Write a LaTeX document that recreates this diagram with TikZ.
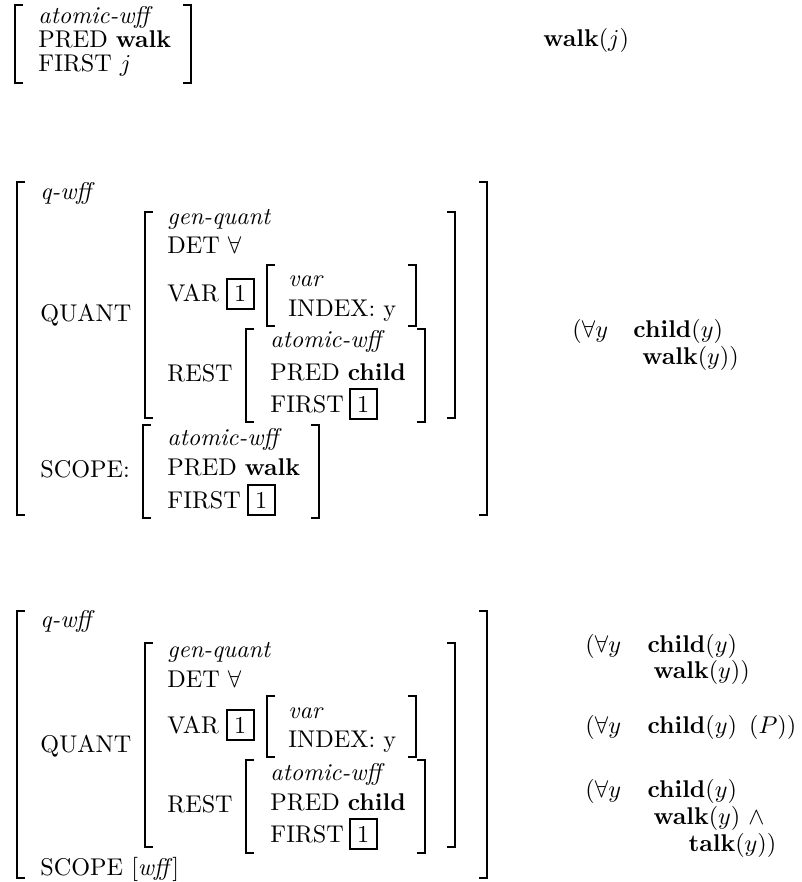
\documentclass[tikz,border=0pt]{standalone}
\usepackage{tikz}
\tikzset{
  feat/.style={anchor=base west, inner sep=0pt},
  tag/.style={draw, line width=0.8pt, inner sep=3pt, anchor=base west},
  brk/.style={line width=0.5pt},
  lf/.style={anchor=base west, inner sep=0pt}
}
% square brackets of one feature structure: left x, right x, top, bottom
\newcommand{\avmbrackets}[4]{%
  \draw[brk] (#1,#3) ++(8,0) -- (#1,#3) -- (#1,#4) -- ++(8,0);
  \draw[brk] (#2,#3) ++(-8,0) -- (#2,#3) -- (#2,#4) -- ++(-8,0);
}

\begin{document}
\begin{tikzpicture}[x=0.4132pt, y=-0.4132pt]
  \useasboundingbox (0,0) rectangle (801,882);

  % atomic wff
  \avmbrackets{15}{191}{5}{83}
  \node[feat] (aType) at (38,24) {\textit{atomic-wff}};
  \node[feat] (aPred) at (38,48) {PRED \textbf{walk}};
  \node[feat] (aFirst) at (38,72) {FIRST $j$};
  \node[lf] (lfA) at (543,47) {$\mathbf{walk}(j)$};

  % quantified wff, scope filled in
  \avmbrackets{17}{487}{182}{515}
  \node[feat] (bType) at (40,200) {\textit{q-wff}};
  \node[feat] (bQuant) at (40,322) {QUANT};
  \avmbrackets{145}{455}{212}{418}
  \node[feat] (bGen) at (167,225) {\textit{gen-quant}};
  \node[feat] (bDet) at (167,254) {DET $\forall$};
  \node[feat] (bVar) at (167,302) {VAR};
  \node[tag] (bTag) at (226,302) {1};
  \avmbrackets{267}{416}{265}{326}
  \node[feat] (bVType) at (288,287) {\textit{var}};
  \node[feat] (bIndex) at (288,317) {INDEX: y};
  \node[feat] (bRest) at (167,382) {REST};
  \avmbrackets{246}{425}{329}{422}
  \node[feat] (bRType) at (270,348) {\textit{atomic-wff}};
  \node[feat] (bRPred) at (270,380) {PRED \textbf{child}};
  \node[feat] (bRFirst) at (270,412) {FIRST};
  \node[tag] (bRTag) at (349,412) {1};
  \node[feat] (bScope) at (40,477) {SCOPE:};
  \avmbrackets{143}{319}{425}{518}
  \node[feat] (bSType) at (167,445) {\textit{atomic-wff}};
  \node[feat] (bSPred) at (167,475) {PRED \textbf{walk}};
  \node[feat] (bSFirst) at (167,508) {FIRST};
  \node[tag] (bSTag) at (247,508) {1};
  \node[lf] (lfB1) at (572,338) {$(\forall y$};
  \node[lf] (lfB2) at (633,338) {$\mathbf{child}(y)$};
  \node[lf] (lfB3) at (642,365) {$\mathbf{walk}(y))$};

  % quantified wff, open scope
  \avmbrackets{17}{487}{611}{878}
  \node[feat] (cType) at (40,627) {\textit{q-wff}};
  \node[feat] (cQuant) at (40,752) {QUANT};
  \avmbrackets{145}{455}{643}{847}
  \node[feat] (cGen) at (167,657) {\textit{gen-quant}};
  \node[feat] (cDet) at (167,687) {DET $\forall$};
  \node[feat] (cVar) at (167,733) {VAR};
  \node[tag] (cTag) at (226,733) {1};
  \avmbrackets{267}{416}{696}{757}
  \node[feat] (cVType) at (288,718) {\textit{var}};
  \node[feat] (cIndex) at (288,747) {INDEX: y};
  \node[feat] (cRest) at (167,812) {REST};
  \avmbrackets{246}{425}{760}{853}
  \node[feat] (cRType) at (270,780) {\textit{atomic-wff}};
  \node[feat] (cRPred) at (270,810) {PRED \textbf{child}};
  \node[feat] (cRFirst) at (270,842) {FIRST};
  \node[tag] (cRTag) at (349,842) {1};
  \node[feat] (cScope) at (40,875) {SCOPE [\textit{wff}]};

  \node[lf] (lfC1) at (585,652) {$(\forall y$};
  \node[lf] (lfC2) at (647,652) {$\mathbf{child}(y)$};
  \node[lf] (lfC3) at (653,678) {$\mathbf{walk}(y))$};
  \node[lf] (lfD1) at (585,733) {$(\forall y$};
  \node[lf] (lfD2) at (647,733) {$\mathbf{child}(y)$\enskip$(P))$};
  \node[lf] (lfE1) at (585,797) {$(\forall y$};
  \node[lf] (lfE2) at (647,797) {$\mathbf{child}(y)$};
  \node[lf] (lfE3) at (653,824) {$\mathbf{walk}(y)\ \wedge$};
  \node[lf] (lfE4) at (688,851) {$\mathbf{talk}(y))$};
\end{tikzpicture}
\end{document}
